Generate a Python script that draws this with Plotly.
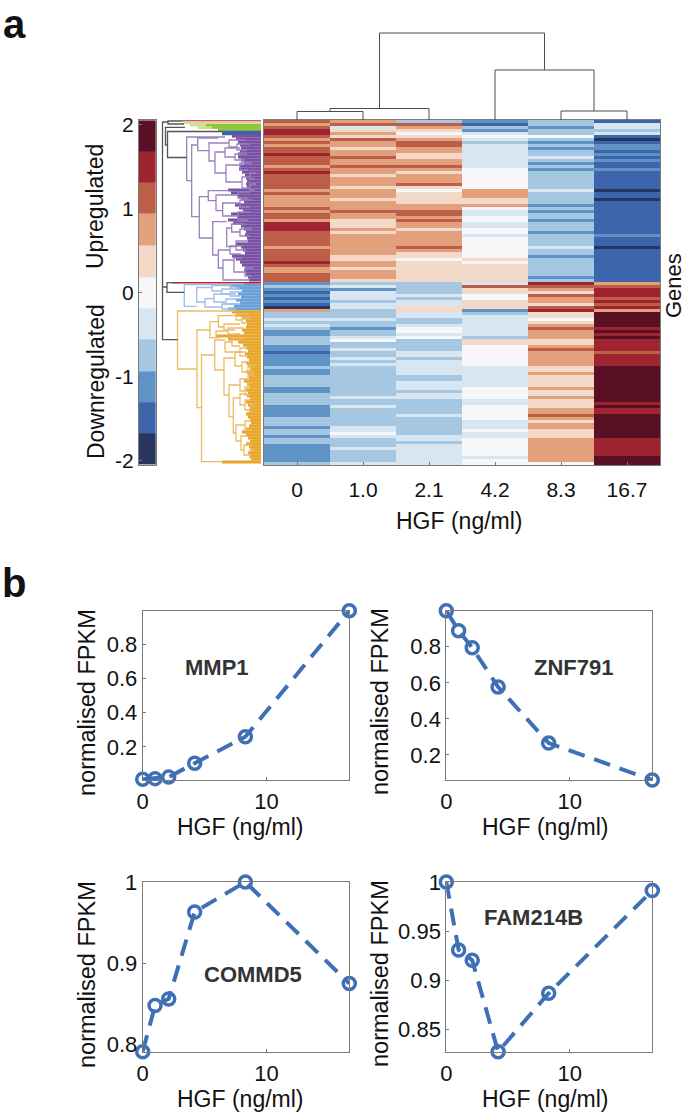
import plotly.graph_objects as go

W, H = 685, 1120

# ---------- data ----------
hgf_labels = ["0", "1.0", "2.1", "4.2", "8.3", "16.7"]
hgf_values = [0, 1.0, 2.1, 4.2, 8.3, 16.7]

# heat-map levels per column, one character per gene row (0 = darkest blue ... A = darkest red)
col_0 = "8789987878 8988878988 8887877778 7887999888 8878888987 7888232121 2107334343 2233322122 2232233332 2333322223 3323323322 22223"
col_1 = "7846768776 7787787767 7767776777 8776667677 7777766776 7776342444 3443334332 3345334334 3433333333 3343343333 3344543334 33334"
col_2 = "3876567887 7667787677 7865666677 8878776777 7787665666 6666333343 4466443345 5453333443 4444433444 3443333343 3333344344 44444"
col_3 = "2132454344 4444445555 5557776675 4455445545 5555556566 6666486655 6662344444 4436655555 5544444445 5554455555 4445445555 55455"
col_4 = "3323353232 3343232333 3334333323 2332333233 3343323333 3323987687 7689665678 7776678777 7766766667 6676667787 6776667777 77775"
col_5 = "1443410122 1212112111 1110110111 1111111121 1101111111 1111789998 9897AAAAA9 A9A9999899 99AAAAAAAA AAAA9A99AA AAAAAA9999 99AAA"
heat_columns = [col_0, col_1, col_2, col_3, col_4, col_5]

level_colors = ["#27355f", "#3c65ab", "#5f93c5", "#a6c7e1", "#d8e6f1", "#f7f7f9",
                "#f3d9c8", "#e2a07c", "#bd5e48", "#9e2430", "#5a1024"]
cbar_centres = [-1.86, -1.49, -1.12, -0.75, -0.37, 0.0, 0.37, 0.75, 1.12, 1.49, 1.86]
cbar_ticks = [2, 1, 0, -1, -2]

# column dendrogram: left, right, merge height, left child height, right child height
col_merges = [
    (0, 1, 8.5, 0, 0),
    (0.5, 2, 11.5, 8.5, 0),
    (4, 5, 9, 0, 0),
    (3, 4.5, 50, 0, 9),
    (1.25, 3.75, 87, 11.5, 50),
]

# gene dendrogram brackets: position, top row, bottom row, top child end, bottom child end
grey_brackets = [
    (162.5, 122, 339.7, 168, 177.5),
    (168, 121, 124, 182, 184),
    (165.5, 127.3, 145, 185, 167.5),
    (167.5, 131.5, 157.5, 222, 186.7),
    (167, 282.7, 292.3, 180, 184.3),
    (162.5, 287, 287, 167, 167),
]
purple_brackets = [
    (186.7, 137, 180.7, 225, 191.7),
    (191.7, 145, 216.7, 197.7, 199.3),
    (197.7, 138, 150.7, 218, 209),
    (209, 143, 161, 229, 215),
    (229, 140, 147, 245, 237),
    (237, 144, 150, 250, 247),
    (215, 152, 173, 225, 226),
    (225, 148, 157, 240, 235),
    (235, 154, 160, 247, 245),
    (226, 165, 182, 240, 242),
    (240, 163, 170, 252, 248),
    (242, 177, 188, 250, 250),
    (250, 173, 179, 256, 255),
    (250, 184, 190, 256, 255),
    (199.3, 196.7, 238, 208.3, 212.7),
    (208.3, 190.7, 200.7, 230, 216),
    (216, 195, 210.7, 238, 222.7),
    (238, 192, 198, 250, 248),
    (222.7, 203, 216, 240, 238),
    (240, 200, 207, 252, 250),
    (238, 212, 220, 251, 248),
    (212.7, 221.7, 255, 226.7, 218.3),
    (226.7, 228, 246.7, 231.7, 236),
    (231.7, 224, 232, 245, 240),
    (240, 229, 236, 252, 250),
    (236, 241, 250, 248, 246),
    (218.3, 250, 268, 230, 223),
    (230, 246, 254, 244, 241),
    (223, 260, 280, 234, 250),
    (234, 258, 272, 242, 245),
    (245, 268, 276, 254, 252),
]
blue_brackets = [
    (184.3, 284.7, 306.3, 232, 196.7),
    (196.7, 287.5, 302, 212, 205),
    (205, 298.7, 307, 214, 222),
    (214, 294, 302, 230, 226),
    (226, 299, 304, 240, 238),
    (222, 304, 309, 240, 236),
    (212, 285.5, 291, 230, 222),
    (222, 289, 294, 238, 236),
    (230, 292, 296, 242, 240),
    (230, 284, 288, 244, 240),
]
orange_brackets = [
    (177.5, 311, 369, 236, 197),
    (197, 330, 407.7, 210, 201.5),
    (210, 321.7, 337.7, 218.3, 216),
    (218.3, 315.7, 327, 236, 224),
    (236, 314, 320, 248, 242),
    (242, 318, 323, 250, 249),
    (224, 324, 330, 240, 235),
    (216, 331, 337.7, 228, 220),
    (228, 328, 334, 244, 240),
    (201.5, 355, 461.7, 214.7, 222),
    (214.7, 340, 370, 225, 224),
    (225, 342, 352, 232, 240),
    (232, 338, 346, 244, 240),
    (240, 348, 356, 249, 248),
    (224, 358, 395, 235, 229),
    (235, 352, 366, 246, 242),
    (242, 362, 372, 250, 248),
    (229, 385, 416.7, 240, 233.3),
    (240, 379, 391, 248, 245),
    (245, 387, 395, 251, 250),
    (233.3, 398, 433, 240, 236),
    (240, 394, 405, 247, 245),
    (245, 400, 410, 252, 250),
    (250, 404, 412, 256, 254),
    (236, 425, 441, 245, 241),
    (245, 421, 430, 250, 252),
    (241, 436, 450, 248, 244),
    (244, 445, 455, 251, 250),
    (250, 450, 458, 255, 254),
    (248, 375, 383, 255, 253),
    (248, 366, 372, 255, 254),
]
# where each cluster's solid leaf fan starts, one value per gene row
purple_leaf_start = [232, 236, 238, 240, 241, 240, 238, 238, 241, 244, 240, 239, 242, 245, 246, 247, 246,
                     247, 228, 231, 238, 241, 244, 235, 239, 243, 231, 237, 228, 233, 241, 244, 246, 245,
                     247, 248, 236, 241, 243, 245, 232, 236, 240, 242, 245, 244, 246, 248, 249]
blue_leaf_start = [230, 236, 242, 238, 241, 236, 240, 234, 228]
orange_leaf_start = [232, 236, 242, 246, 247, 246, 242, 244, 216, 228,
                     238, 243, 246, 248, 245, 247, 249, 246, 248, 250,
                     246, 248, 249, 244, 247, 249, 246, 248, 247, 250,
                     246, 248, 250, 249, 246, 248, 250, 251, 249, 246,
                     242, 246, 248, 250, 246, 249, 251, 248, 250, 251, 222]
green_pale_start = [183, 190, 198]
green_solid_start = [206, 212, 218]

# panel b
mmp1 = [0.01, 0.013, 0.022, 0.104, 0.259, 1.0]
znf791 = [1.0, 0.889, 0.795, 0.577, 0.266, 0.061]
commd5 = [0.791, 0.848, 0.856, 0.963, 1.0, 0.875]
fam214b = [1.0, 0.931, 0.9205, 0.8277, 0.887, 0.9913]
panel_names = ["MMP1", "ZNF791", "COMMD5", "FAM214B"]

# ---------- helpers ----------
FONT = "Liberation Sans, Arial, sans-serif"
FRAME = "#7a7a7a"
dx = lambda a, b: [a / W, b / W]
dy = lambda top, bot: [1 - bot / H, 1 - top / H]

fig = go.Figure()


def bracket_paths(brackets):
    xs, ys = [], []
    for pos, top, bot, tc, bc in brackets:
        xs += [tc, pos, pos, bc, None]
        ys += [top, top, bot, bot, None]
    return xs, ys


def add_lines(xs, ys, color, width):
    fig.add_trace(go.Scatter(x=xs, y=ys, mode="lines", xaxis="x3", yaxis="y3",
                             line=dict(color=color, width=width), hoverinfo="skip",
                             showlegend=False, connectgaps=False))


def add_leaves(starts, first_y, color, width=3.2, step=3):
    xs, ys = [], []
    for i, s in enumerate(starts):
        xs += [s, 261, None]
        ys += [first_y + step * i, first_y + step * i, None]
    add_lines(xs, ys, color, width)


# ---------- heat map ----------
rows = [c.replace(" ", "") for c in heat_columns]
n_rows = len(rows[0])
z = [[int(rows[c][r], 16) for c in range(6)] for r in range(n_rows)]
cs = []
for i, c in enumerate(level_colors):
    cs += [[i / 11, c], [(i + 1) / 11, c]]
fig.add_trace(go.Heatmap(z=z, x=list(range(6)), y=list(range(n_rows)), colorscale=cs, zmin=-0.5, zmax=10.5,
                         showscale=False, xaxis="x", yaxis="y", hoverinfo="skip"))

# ---------- colour bar ----------
fig.add_trace(go.Heatmap(z=[[i] for i in range(11)], x=[0], y=cbar_centres, colorscale=cs, zmin=-0.5, zmax=10.5,
                         showscale=False, xaxis="x2", yaxis="y2", hoverinfo="skip"))

# ---------- column dendrogram ----------
xs, ys = [], []
for l, r, h, hl, hr in col_merges:
    xs += [l, l, r, r, None]
    ys += [hl, h, h, hr, None]
fig.add_trace(go.Scatter(x=xs, y=ys, mode="lines", xaxis="x4", yaxis="y4",
                         line=dict(color="#4d4d4d", width=1), hoverinfo="skip", showlegend=False))

# ---------- gene dendrogram ----------
add_leaves([182], 120.8, "#e2497f", 1.5)
add_leaves(green_pale_start, 122.8, "#cfe08f", 2.8, 2.4)
add_leaves(green_solid_start, 125.2, "#8fc640", 2.6, 2.2)
add_leaves([222, 222], 132, "#3f62ad", 2.6, 2)
add_leaves(purple_leaf_start, 136, "#7a52a4")
add_leaves(blue_leaf_start, 285, "#6a9fd8")
add_leaves(orange_leaf_start, 312, "#e8a62a")
add_leaves([172], 282.8, "#c8202f", 1.6)
for br, col in ((purple_brackets, "#9a80bd"), (blue_brackets, "#9dbde6"), (orange_brackets, "#edbb66")):
    x_, y_ = bracket_paths(br)
    add_lines(x_, y_, col, 1.3)
x_, y_ = bracket_paths(grey_brackets)
add_lines(x_, y_, "#555555", 1.3)

# ---------- panel b ----------
for k, vals in enumerate((mmp1, znf791, commd5, fam214b)):
    n = 5 + k
    fig.add_trace(go.Scatter(x=hgf_values, y=vals, mode="lines+markers", xaxis=f"x{n}", yaxis=f"y{n}",
                             cliponaxis=False, showlegend=False, hoverinfo="skip",
                             line=dict(color="#3f70b6", width=4, dash="17px,10px"),
                             marker=dict(symbol="circle-open", size=12, color="#3f70b6",
                                         line=dict(color="#3f70b6", width=3.5))))

# ---------- layout ----------
tickfont = dict(family=FONT, size=21, color="#111111")
hidden = dict(visible=False, fixedrange=True)
layout = dict(
    width=W, height=H, margin=dict(l=0, r=0, t=0, b=0, autoexpand=False), paper_bgcolor="white", plot_bgcolor="white",
    font=dict(family=FONT), showlegend=False,
    xaxis=dict(domain=dx(264, 660), range=[-0.5, 5.5], tickmode="array", tickvals=list(range(6)),
               ticktext=hgf_labels, ticks="inside", ticklen=3, tickcolor=FRAME, tickfont=tickfont,
               ticklabelstandoff=6, showline=True, mirror=True, linecolor=FRAME, linewidth=1.2,
               showgrid=False, zeroline=False),
    yaxis=dict(domain=dy(120, 465), range=[n_rows - 0.5, -0.5], showticklabels=False, ticks="",
               showline=True, mirror=True, linecolor=FRAME, linewidth=1.2, showgrid=False, zeroline=False),
    xaxis2=dict(domain=dx(139, 155.7), range=[-0.5, 0.5], showticklabels=False, ticks="", showline=True,
                mirror=True, linecolor=FRAME, linewidth=1, showgrid=False, zeroline=False, anchor="y2"),
    yaxis2=dict(domain=dy(120, 465), range=[-2.05, 2.05], tickmode="array", tickvals=cbar_ticks,
                ticktext=[str(t) for t in cbar_ticks], ticks="inside", ticklen=3, tickcolor=FRAME,
                tickfont=tickfont, showline=True, mirror=True, linecolor=FRAME, linewidth=1,
                showgrid=False, zeroline=False, anchor="x2"),
    xaxis3=dict(domain=dx(158, 262), range=[158, 262], anchor="y3", **hidden),
    yaxis3=dict(domain=dy(118, 467), range=[467, 118], anchor="x3", **hidden),
    xaxis4=dict(domain=dx(264, 660), range=[-0.5, 5.5], anchor="y4", **hidden),
    yaxis4=dict(domain=dy(20, 120), range=[0, 100], anchor="x4", **hidden),
)

panels = [
    (142.7, 349.3, 610.7, 780.0, [0.005, 1.0], [0.2, 0.4, 0.6, 0.8], ["0.2", "0.4", "0.6", "0.8"]),
    (446.3, 652.3, 610.7, 780.0, [0.061, 1.0], [0.2, 0.4, 0.6, 0.8], ["0.2", "0.4", "0.6", "0.8"]),
    (142.7, 349.3, 882.0, 1051.7, [0.791, 1.0], [0.8, 0.9, 1.0], ["0.8", "0.9", "1"]),
    (446.3, 652.3, 882.0, 1051.7, [0.8277, 1.0], [0.85, 0.9, 0.95, 1.0], ["0.85", "0.9", "0.95", "1"]),
]
annots = []


def note(text, px, py, size=22, bold=False, angle=0, color="#111111"):
    annots.append(dict(text=f"<b>{text}</b>" if bold else text, x=px / W, y=1 - py / H, xref="paper", yref="paper",
                       showarrow=False, textangle=angle, xanchor="center", yanchor="middle",
                       font=dict(family=FONT, size=size, color=color)))


for k, (l, r, t, b, yr, tv, tt) in enumerate(panels):
    n = 5 + k
    layout[f"xaxis{n}"] = dict(domain=dx(l, r), range=[0, 16.7], anchor=f"y{n}", tickmode="array", tickvals=[0, 10],
                               ticktext=["0", "10"], ticks="inside", ticklen=3, tickcolor=FRAME, tickfont=dict(family=FONT, size=22, color="#111111"),
                               showline=True, mirror=True, linecolor=FRAME, linewidth=1, showgrid=False,
                               zeroline=False, ticklabelstandoff=2)
    layout[f"yaxis{n}"] = dict(domain=dy(t, b), range=yr, anchor=f"x{n}", tickmode="array", tickvals=tv, ticktext=tt,
                               ticks="inside", ticklen=3, tickcolor=FRAME, tickfont=dict(family=FONT, size=22, color="#111111"),
                               showline=True, mirror=True, linecolor=FRAME, linewidth=1, showgrid=False,
                               zeroline=False)

note("a", 14, 24, 40, True)
note("b", 14, 583, 40, True)
note("HGF (ng/ml)", 459, 521, 23)
note("Genes", 673, 286, 22, angle=-90)
note("Upregulated", 95, 207, 23, angle=-90)
note("Downregulated", 96, 382, 23, angle=-90)
for px, py in ((240.7, 827), (545, 827), (240.7, 1099), (545, 1099)):
    note("HGF (ng/ml)", px, py, 23)
for px, py in ((87, 702), (380, 702), (87, 974), (380, 974)):
    note("normalised FPKM", px, py, 23.5, angle=-90)
for name, (px, py) in zip(panel_names, ((217, 667), (573, 667), (253, 974), (533, 917))):
    note(name, px, py, 22, True, color="#333333")

layout["annotations"] = annots
fig.update_layout(**layout)
fig.write_html("out.html", config=dict(displayModeBar=False),
               post_script="document.body.style.margin='0';")
